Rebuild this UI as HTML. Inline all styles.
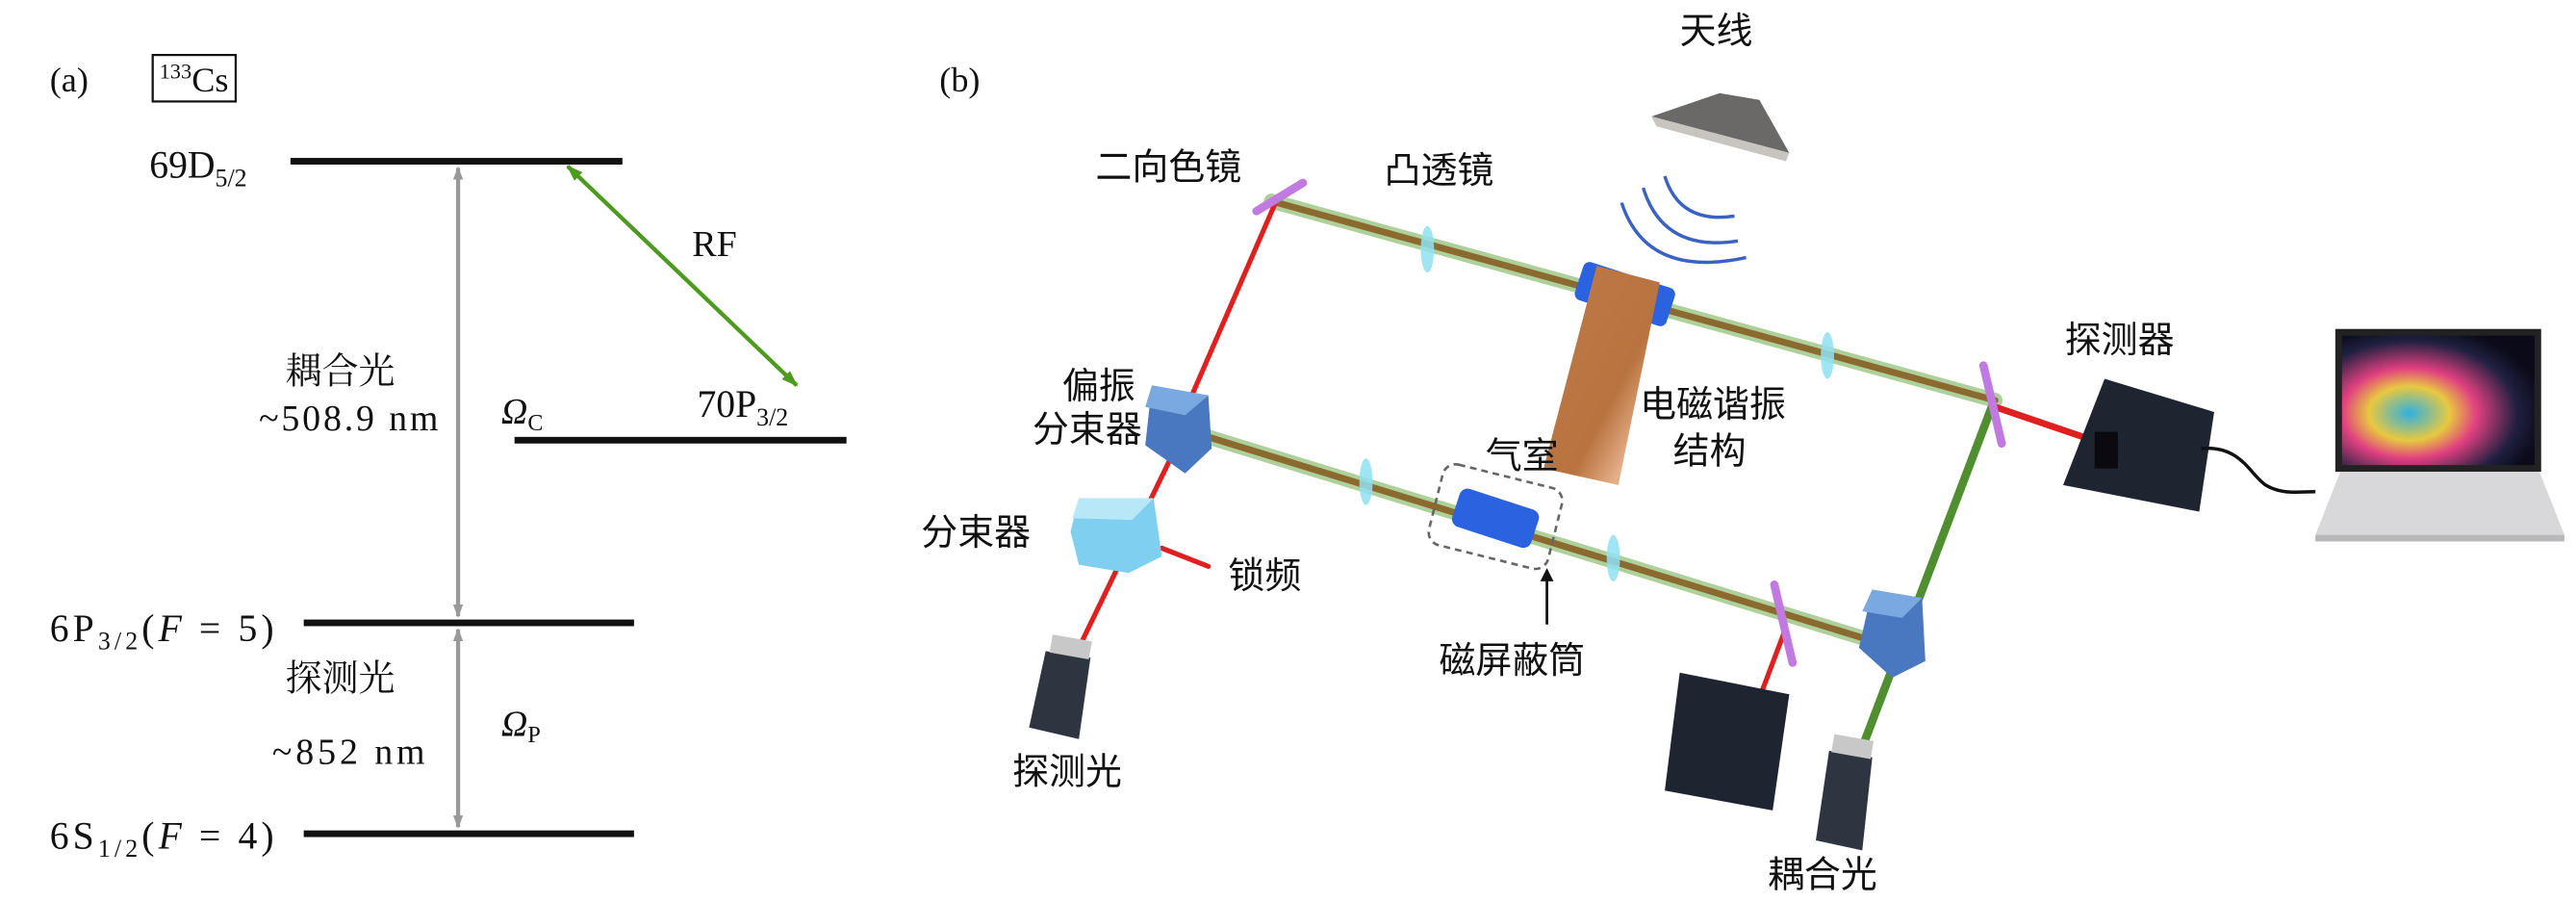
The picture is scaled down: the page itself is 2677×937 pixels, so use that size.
<!DOCTYPE html>
<html><head><meta charset="utf-8"><style>html,body{margin:0;padding:0;background:#fff}svg{display:block}</style></head>
<body>
<svg width="2677" height="937" viewBox="0 0 1552 543" xmlns="http://www.w3.org/2000/svg">
<defs>
<marker id="ag" markerWidth="8" markerHeight="8" refX="7" refY="4" orient="auto-start-reverse" markerUnits="userSpaceOnUse"><path d="M0,1 L8,4 L0,7 Z" fill="#999"/></marker>
<marker id="agr" markerWidth="10" markerHeight="8" refX="9" refY="4" orient="auto-start-reverse" markerUnits="userSpaceOnUse"><path d="M0,0.5 L10,4 L0,7.5 Z" fill="#4c9a1e"/></marker>
<radialGradient id="lap" cx="0.35" cy="0.6" r="0.7"><stop offset="0" stop-color="#30b0e0"/><stop offset="0.3" stop-color="#e8c840"/><stop offset="0.5" stop-color="#e04080"/><stop offset="0.8" stop-color="#202040"/><stop offset="1" stop-color="#0a0a18"/></radialGradient>
<linearGradient id="cop" x1="0" y1="0" x2="1" y2="1"><stop offset="0" stop-color="#c07a48"/><stop offset="0.6" stop-color="#b8733f"/><stop offset="0.8" stop-color="#e6b08a"/><stop offset="1" stop-color="#a86838"/></linearGradient>
</defs>
<!-- panel a shapes -->
<rect x="92" y="33" width="50" height="28" fill="none" stroke="#111" stroke-width="1.3"/>
<rect x="175" y="95" width="200" height="4" fill="#111"/>
<rect x="310" y="263" width="200" height="4" fill="#111"/>
<rect x="183" y="373" width="199" height="4" fill="#111"/>
<rect x="183" y="500" width="199" height="4" fill="#111"/>
<line x1="276" y1="101" x2="276" y2="371" stroke="#999" stroke-width="2.5" marker-start="url(#ag)" marker-end="url(#ag)"/>
<line x1="276" y1="379" x2="276" y2="498" stroke="#999" stroke-width="2.5" marker-start="url(#ag)" marker-end="url(#ag)"/>
<line x1="342" y1="100" x2="480" y2="232" stroke="#4c9a1e" stroke-width="2.5" marker-start="url(#agr)" marker-end="url(#agr)"/>
<!-- antenna -->
<polygon points="1036,56 1060,60 1078,92 995,70" fill="#6b6967"/>
<polygon points="995,70 1078,92 1076,97 998,76" fill="#c8c4c0"/>
<g fill="none" stroke="#3a62c4" stroke-width="2">
<path d="M1003,106 Q1012,135 1045,130"/>
<path d="M990,113 Q1002,152 1047,145"/>
<path d="M977,122 Q992,168 1052,155"/>
</g>
<!-- beams -->
<g stroke-linecap="round">
<line x1="766" y1="121" x2="1202" y2="241" stroke="#7ab35a" stroke-width="9" opacity="0.6"/>
<line x1="766" y1="121" x2="1202" y2="241" stroke="#8b6a30" stroke-width="4"/>
<line x1="718" y1="260" x2="1122" y2="384" stroke="#7ab35a" stroke-width="9" opacity="0.6"/>
<line x1="718" y1="260" x2="1122" y2="384" stroke="#8b6a30" stroke-width="4"/>
<line x1="1200" y1="245" x2="1122" y2="450" stroke="#4f8f2f" stroke-width="5"/>
<line x1="768" y1="123" x2="712" y2="252" stroke="#e0201e" stroke-width="3"/>
<line x1="712" y1="262" x2="650" y2="390" stroke="#e0201e" stroke-width="3"/>
<line x1="700" y1="330" x2="728" y2="341" stroke="#e0201e" stroke-width="3"/>
<line x1="1202" y1="245" x2="1255" y2="263" stroke="#e0201e" stroke-width="4"/>
<line x1="1076" y1="378" x2="1062" y2="415" stroke="#e0201e" stroke-width="3"/>
</g>
<g stroke="#c07ae0" stroke-width="5" stroke-linecap="round">
<line x1="757" y1="127" x2="785" y2="110"/>
<line x1="1195" y1="220" x2="1206" y2="267"/>
<line x1="1069" y1="352" x2="1080" y2="399"/>
</g>
<g fill="#8fe0f2" opacity="0.85">
<ellipse cx="860" cy="150" rx="4" ry="14"/>
<ellipse cx="1101" cy="214" rx="4" ry="14"/>
<ellipse cx="823" cy="290" rx="4" ry="14"/>
<ellipse cx="972" cy="336" rx="4" ry="14"/>
</g>
<rect x="950" y="165" width="58" height="24" rx="4" fill="#2a62e0" transform="rotate(18 979 177)"/>
<polygon points="962,160 1000,170 975,292 930,282" fill="url(#cop)"/>
<rect x="876" y="300" width="50" height="24" rx="5" fill="#2a62e0" transform="rotate(18 901 312)"/>
<rect x="864" y="286" width="74" height="50" rx="8" fill="none" stroke="#666" stroke-width="1.5" stroke-dasharray="4,3" transform="rotate(14 901 311)"/>
<line x1="932" y1="376" x2="932" y2="348" stroke="#111" stroke-width="1.6"/>
<polygon points="928,350 932,342 936,350" fill="#111"/>
<polygon points="694,232 728,238 730,270 714,285 690,268" fill="#4a78c0"/>
<polygon points="694,232 728,238 714,250 690,245" fill="#7aa8e0"/>
<polygon points="1128,355 1158,360 1160,398 1140,408 1120,390" fill="#4a78c0"/>
<polygon points="1128,355 1158,360 1146,372 1122,368" fill="#7aa8e0"/>
<polygon points="650,300 695,300 700,335 680,345 650,340 645,320" fill="#7fd0f0"/>
<polygon points="650,300 695,300 682,313 646,312" fill="#b8e8f8"/>
<polygon points="630,392 657,396 650,445 620,438" fill="#2e3440"/>
<rect x="633" y="384" width="24" height="11" fill="#c8c8c8" transform="rotate(10 645 390)"/>
<polygon points="1102,452 1128,456 1122,512 1094,506" fill="#2e3440"/>
<rect x="1104" y="444" width="24" height="11" fill="#c8c8c8" transform="rotate(10 1116 450)"/>
<polygon points="1012,405 1078,418 1068,488 1003,476" fill="#1e2430"/>
<polygon points="1268,228 1334,248 1325,308 1243,292" fill="#1e2430"/>
<rect x="1262" y="260" width="14" height="22" fill="#0a0a10"/>
<path d="M1326,270 C1350,268 1355,285 1365,292 C1375,298 1385,296 1395,296" fill="none" stroke="#111" stroke-width="2"/>
<rect x="1407" y="198" width="124" height="86" fill="#222"/>
<rect x="1411" y="202" width="116" height="78" fill="url(#lap)"/>
<polygon points="1410,284 1530,284 1545,322 1395,322" fill="#d8d8da"/>
<rect x="1395" y="322" width="150" height="4" fill="#b8b8ba"/>
<!-- text panel a -->
<g font-family="'Liberation Serif','Noto Serif CJK SC',serif" fill="#111">
<text x="30" y="55" font-size="21">(a)</text>
<text x="96" y="55" font-size="21"><tspan font-size="13" dy="-8">133</tspan><tspan dy="8">Cs</tspan></text>
<text x="90" y="107" font-size="23">69D<tspan font-size="15" dy="5">5/2</tspan></text>
<text x="420" y="251" font-size="23">70P<tspan font-size="15" dy="5">3/2</tspan></text>
<text x="30" y="386" font-size="23" textLength="135" lengthAdjust="spacing">6P<tspan font-size="15" dy="5">3/2</tspan><tspan dy="-5">(</tspan><tspan font-style="italic">F</tspan> = 5)</text>
<text x="30" y="511" font-size="23" textLength="135" lengthAdjust="spacing">6S<tspan font-size="15" dy="5">1/2</tspan><tspan dy="-5">(</tspan><tspan font-style="italic">F</tspan> = 4)</text>
<text x="417" y="154" font-size="22">RF</text>
<text x="172" y="231" font-size="22">耦合光</text>
<text x="156" y="259" font-size="22" textLength="108" lengthAdjust="spacing">~508.9 nm</text>
<text x="302" y="255" font-size="22" font-style="italic">Ω<tspan font-size="14" font-style="normal" dy="4">C</tspan></text>
<text x="172" y="416" font-size="22">探测光</text>
<text x="164" y="460" font-size="22" textLength="92" lengthAdjust="spacing">~852 nm</text>
<text x="302" y="443" font-size="22" font-style="italic">Ω<tspan font-size="14" font-style="normal" dy="4">P</tspan></text>
<text x="566" y="55" font-size="21">(b)</text>
</g>
<g font-family="'Liberation Sans','Noto Sans CJK SC',sans-serif" fill="#111" font-size="22">
<text x="1012" y="26">天线</text>
<text x="660" y="108">二向色镜</text>
<text x="834" y="110">凸透镜</text>
<text x="988" y="251">电磁谐振</text>
<text x="1008" y="279">结构</text>
<text x="1244" y="212">探测器</text>
<text x="640" y="240">偏振</text>
<text x="622" y="266">分束器</text>
<text x="555" y="328">分束器</text>
<text x="740" y="354">锁频</text>
<text x="895" y="282">气室</text>
<text x="867" y="405">磁屏蔽筒</text>
<text x="610" y="472">探测光</text>
<text x="1065" y="534">耦合光</text>
</g>
</svg>
</body></html>
